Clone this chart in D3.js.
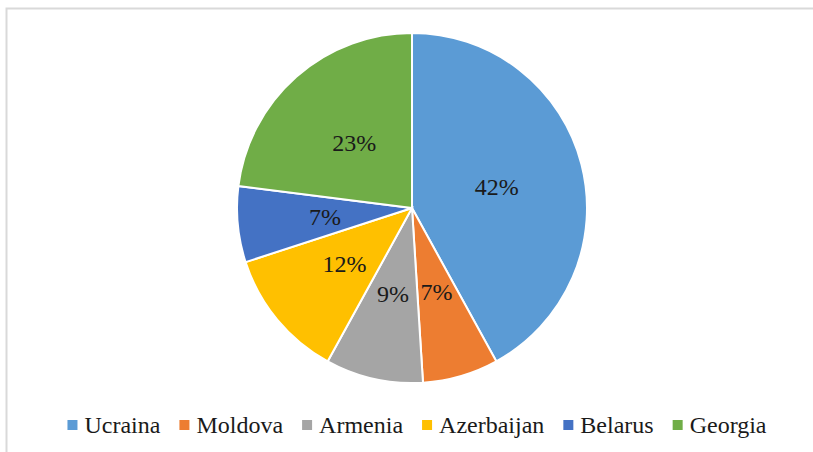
<!DOCTYPE html>
<html>
<head>
<meta charset="utf-8">
<script src="https://cdn.jsdelivr.net/npm/d3@7"></script>
<style>
  body { margin: 0; background: #fff; }
  svg { display: block; }
  .lbl { font-family: "Liberation Serif", "Times New Roman", Times, "DejaVu Serif", serif; font-size: 24px; }
</style>
</head>
<body>
<div id="chart"></div>
<script>
const countries = ["Ucraina", "Moldova", "Armenia", "Azerbaijan", "Belarus", "Georgia"];
const shares = [42, 7, 9, 12, 7, 23];
const sliceColors = ["#5B9BD5", "#ED7D31", "#A5A5A5", "#FFC000", "#4472C4", "#70AD47"];

const width = 813, height = 452;
const cx = 412, cy = 208, radius = 175;

const svg = d3.select("#chart").append("svg")
    .attr("width", width)
    .attr("height", height);

// chart area frame (only top and left edges are visible in the crop)
svg.append("rect")
    .attr("x", 6.5)
    .attr("y", 8.5)
    .attr("width", width + 20)
    .attr("height", height + 20)
    .attr("fill", "#fff")
    .attr("stroke", "#d9d9d9")
    .attr("stroke-width", 2);

const color = d3.scaleOrdinal().domain(countries).range(sliceColors);

const pie = d3.pie()
    .sort(null)
    .value(d => d.value);

const data = countries.map((c, i) => ({ name: c, value: shares[i] }));
const arcs = pie(data);

const arc = d3.arc().innerRadius(0).outerRadius(radius);
const labelArc = d3.arc().innerRadius(radius * 0.5).outerRadius(radius * 0.5);

const g = svg.append("g").attr("transform", `translate(${cx},${cy})`);

g.selectAll("path")
    .data(arcs)
    .enter()
    .append("path")
    .attr("d", arc)
    .attr("fill", d => color(d.data.name))
    .attr("stroke", "#fff")
    .attr("stroke-width", 2);

g.selectAll("text")
    .data(arcs)
    .enter()
    .append("text")
    .attr("class", "lbl")
    .attr("transform", d => `translate(${labelArc.centroid(d)})`)
    .attr("text-anchor", "middle")
    .attr("dy", "0.35em")
    .attr("fill", "#1a1a1a")
    .text(d => d.data.value + "%");

// legend, laid out horizontally and centred
const legend = svg.append("g").attr("class", "legend");
const items = legend.selectAll("g")
    .data(countries)
    .enter()
    .append("g");

items.append("rect")
    .attr("width", 10)
    .attr("height", 10)
    .attr("y", -5)
    .attr("fill", d => color(d));

items.append("text")
    .attr("class", "lbl")
    .attr("x", 17)
    .attr("dy", "0.35em")
    .attr("fill", "#1a1a1a")
    .text(d => d);

let offset = 0;
const pos = [];
items.each(function() {
    const w = 17 + d3.select(this).select("text").node().getComputedTextLength();
    pos.push(offset);
    offset += w + 19;
});
const totalW = offset - 19;
const startX = 417 - totalW / 2;
items.attr("transform", (d, i) => `translate(${startX + pos[i]},425)`);
</script>
</body>
</html>
